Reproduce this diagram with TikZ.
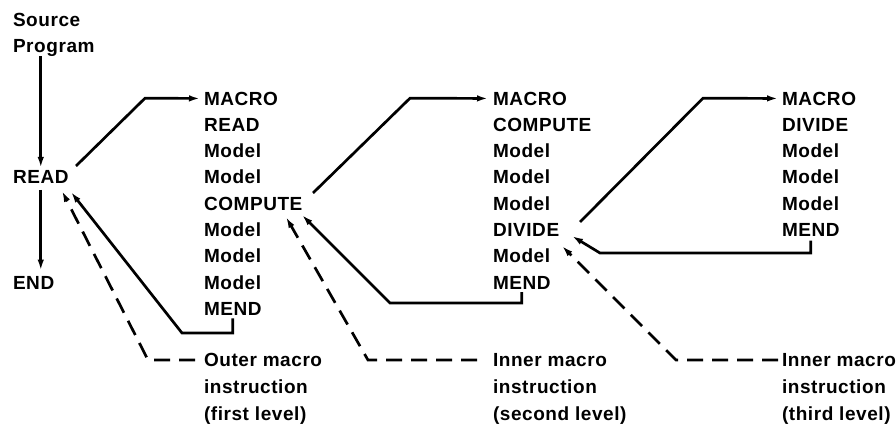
\documentclass[tikz,border=0pt]{standalone}
\usepackage{fontspec}
\setmainfont[LetterSpace=3]{Liberation Sans}
\usetikzlibrary{arrows.meta}
\begin{document}
\begin{tikzpicture}[x=1pt,y=-1pt,
  txt/.style={anchor=base west, inner sep=0pt, outer sep=0pt, font=\fontsize{19}{19}\selectfont\bfseries},
  link/.style={line width=2.7pt, -{Latex[length=11pt,width=6.5pt]}, line join=miter},
  dlink/.style={link, dash pattern=on 16pt off 9pt}]
\useasboundingbox (0,0) rectangle (896,426);

% left column
\node[txt] (src)  at (13,26.1)  {Source};
\node[txt] (prog) at (13,52.4)  {Program};
\node[txt] (read) at (13,183.9) {READ};
\node[txt] (end)  at (13,289.1) {END};

% first macro definition
\node[txt] (m1)    at (204,105.0) {MACRO};
\node[txt] (m1r)   at (204,131.3) {READ};
\node[txt] (m1a)   at (204,157.6) {Model};
\node[txt] (m1b)   at (204,183.9) {Model};
\node[txt] (comp1) at (204,210.2) {COMPUTE};
\node[txt] (m1c)   at (204,236.5) {Model};
\node[txt] (m1d)   at (204,262.8) {Model};
\node[txt] (m1e)   at (204,289.1) {Model};
\node[txt] (mend1) at (204,315.4) {MEND};

% second macro definition
\node[txt] (m2)    at (493,105.0) {MACRO};
\node[txt] (m2c)   at (493,131.3) {COMPUTE};
\node[txt] (m2a)   at (493,157.6) {Model};
\node[txt] (m2b)   at (493,183.9) {Model};
\node[txt] (m2d)   at (493,210.2) {Model};
\node[txt] (div2)  at (493,236.5) {DIVIDE};
\node[txt] (m2e)   at (493,262.8) {Model};
\node[txt] (mend2) at (493,289.1) {MEND};

% third macro definition
\node[txt] (m3)    at (782,105.0) {MACRO};
\node[txt] (m3d)   at (782,131.3) {DIVIDE};
\node[txt] (m3a)   at (782,157.6) {Model};
\node[txt] (m3b)   at (782,183.9) {Model};
\node[txt] (m3c)   at (782,210.2) {Model};
\node[txt] (mend3) at (782,236.5) {MEND};

% labels
\node[txt] (l1a) at (204,366.5) {Outer macro};
\node[txt] (l1b) at (204,393)   {instruction};
\node[txt] (l1c) at (204,420)   {(first level)};
\node[txt] (l2a) at (493,366.5) {Inner macro};
\node[txt] (l2b) at (493,393)   {instruction};
\node[txt] (l2c) at (493,420)   {(second level)};
\node[txt] (l3a) at (782,366.5) {Inner macro};
\node[txt] (l3b) at (782,393)   {instruction};
\node[txt] (l3c) at (782,420)   {(third level)};

% coordinates
\coordinate (o1) at (76,166);
\coordinate (b1) at (145,98.2);
\coordinate (c1) at (182,333);
\coordinate (t1) at (71,192);
\coordinate (t1d) at (62,191);

\coordinate (o2) at (313,193);
\coordinate (b2) at (410,98.2);
\coordinate (c2) at (390,303);
\coordinate (t2) at (302,215);
\coordinate (t2d) at (286,217);

\coordinate (o3) at (580,222);
\coordinate (b3) at (703,98.2);
\coordinate (c3) at (600,253);
\coordinate (t3) at (572,236);
\coordinate (t3d) at (562,246);

% main program flow
\draw[link, shorten >=3pt] (prog.south -| read.north) -- (read.north);
\draw[link, shorten <=6pt, shorten >=5.5pt] (read.south) -- (read.south |- end.north);

% calls
\draw[link, shorten >=4pt] (o1) -- (b1) -- (m1.west);
\draw[link, shorten >=5pt] (o2) -- (b2) -- (m2.west);
\draw[link, shorten >=4pt] (o3) -- (b3) -- (m3.west);

% returns
\draw[link] ([yshift=-3pt]mend1.south) |- (c1) -- (t1);
\draw[link] ([yshift=-3pt]mend2.south) |- (c2) -- (t2);
\draw[link] ([yshift=-4pt]mend3.south) |- (c3) -- (t3);

% dashed label pointers
\draw[dlink] ([xshift=-9pt]l1a.west) -- ++(-47,0) -- (t1d);
\draw[dlink] ([xshift=-16pt]l2a.west) -- ++(-109,0) -- (t2d);
\draw[dlink] ([xshift=-4pt]l3a.west) -- ++(-102,0) -- (t3d);
\end{tikzpicture}
\end{document}
